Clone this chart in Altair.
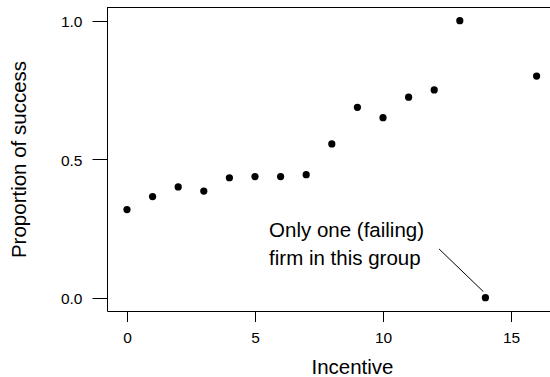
import altair as alt
import pandas as pd

# Data
incentive = [0, 1, 2, 3, 4, 5, 6, 7, 8, 9, 10, 11, 12, 13, 14, 16]
proportion = [0.318, 0.365, 0.400, 0.385, 0.433, 0.4375, 0.4375, 0.444,
              0.555, 0.6875, 0.650, 0.724, 0.750, 1.000, 0.000, 0.800]

x_ticks = [0, 5, 10, 15]
y_ticks = [0.0, 0.5, 1.0]

note_text = ["Only one (failing)\nfirm in this group"]
note_x = [5.55]
note_y = [0.218]

seg_x = [12.19]
seg_y = [0.176]
seg_x2 = [13.92]
seg_y2 = [0.022]

FONT = "Liberation Sans"
W, H = 443, 304

df = pd.DataFrame({"Incentive": incentive, "Proportion": proportion})
notes = pd.DataFrame({"x": note_x, "y": note_y, "text": note_text})
segs = pd.DataFrame({"x": seg_x, "y": seg_y, "x2": seg_x2, "y2": seg_y2})

xscale = alt.Scale(domain=[-0.78125, 16.523], nice=False, zero=False)
yscale = alt.Scale(domain=[-0.048, 1.0495], nice=False, zero=False)

points = alt.Chart(df).mark_circle(size=52, color="black", opacity=1).encode(
    x=alt.X("Incentive:Q", scale=xscale,
            axis=alt.Axis(values=x_ticks, format="d", grid=False,
                          domainColor="black", domainWidth=1,
                          tickColor="black", tickSize=10.5, tickWidth=1,
                          labelFont=FONT, labelFontSize=15.5, labelColor="black",
                          labelPadding=9,
                          title="Incentive", titleFont=FONT, titleFontSize=20.5,
                          titleFontWeight="normal", titleColor="black",
                          titleX=245, titleY=62, titleBaseline="alphabetic")),
    y=alt.Y("Proportion:Q", scale=yscale,
            axis=alt.Axis(values=y_ticks, format=".1f", grid=False,
                          domainColor="black", domainWidth=1,
                          tickColor="black", tickSize=15, tickWidth=1,
                          labelFont=FONT, labelFontSize=15.5, labelColor="black",
                          labelPadding=10, labelOffset=1,
                          title="Proportion of success", titleFont=FONT,
                          titleFontSize=20.5, titleFontWeight="normal",
                          titleColor="black", titleAngle=270,
                          titleX=-82, titleY=152, titleBaseline="alphabetic",
                          titleAlign="center")),
)

top_border = alt.Chart(pd.DataFrame({"a": [0]})).mark_rule(
    color="black", strokeWidth=1).encode(
    x=alt.value(0), x2=alt.value(W), y=alt.value(0.5))

note = alt.Chart(notes).mark_text(
    align="left", baseline="alphabetic", font=FONT, fontSize=20.5,
    lineBreak="\n", lineHeight=28, color="black").encode(
    x=alt.X("x:Q", scale=xscale), y=alt.Y("y:Q", scale=yscale), text="text:N")

seg = alt.Chart(segs).mark_rule(color="black", strokeWidth=1).encode(
    x=alt.X("x:Q", scale=xscale), y=alt.Y("y:Q", scale=yscale),
    x2="x2:Q", y2="y2:Q")

chart = alt.layer(points, top_border, note, seg).properties(
    width=W, height=H,
    autosize=alt.AutoSizeParams(type="none"),
    padding={"left": 107, "top": 7, "right": 0, "bottom": 377 - 7 - H},
    background="white",
).configure_view(stroke=None)

chart.save("out.html", embed_options={"renderer": "svg", "actions": False})
